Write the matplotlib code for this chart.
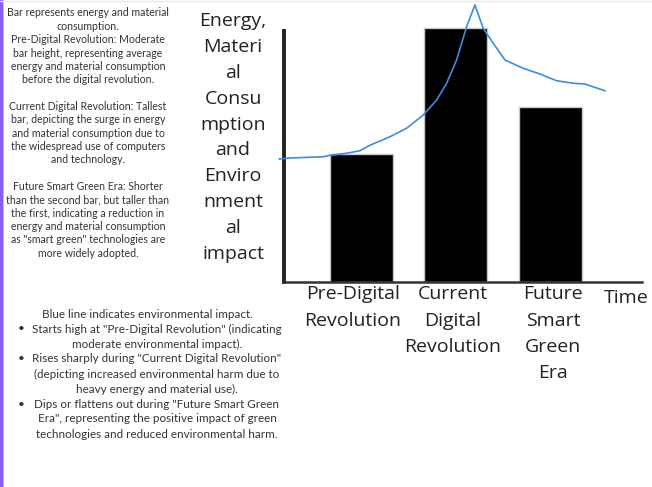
import matplotlib
matplotlib.use("Agg")
import matplotlib.pyplot as plt
from matplotlib.lines import Line2D
from matplotlib.patches import Rectangle

# ---- data ----
categories = ["Pre-Digital\nRevolution", "Current\nDigital\nRevolution", "Future\nSmart\nGreen\nEra"]
consumption = [5.12, 10.16, 7.0]
impact_x = [-0.87, -0.757, -0.404, -0.333, -0.157, -0.016, 0.090, 0.302, 0.478, 0.654,
            0.796, 0.902, 1.007, 1.113, 1.201, 1.289, 1.395, 1.519, 1.712, 1.889,
            2.066, 2.241, 2.365, 2.577]
impact_y = [4.92, 4.96, 5.01, 5.07, 5.15, 5.25, 5.47, 5.81, 6.15, 6.68,
            7.28, 7.95, 8.88, 10.21, 11.08, 10.15, 9.55, 8.88, 8.55, 8.32,
            8.05, 7.95, 7.92, 7.65]
y_label = "Energy,\nMateri\nal\nConsu\nmption\nand\nEnviro\nnment\nal\nimpact"
x_label = "Time"

note_top = ("Bar represents energy and material\nconsumption.\n"
            "Pre-Digital Revolution: Moderate\nbar height, representing average\n"
            "energy and material consumption\nbefore the digital revolution.\n\n"
            "Current Digital Revolution: Tallest\nbar, depicting the surge in energy\n"
            "and material consumption due to\nthe widespread use of computers\nand technology.\n\n"
            "Future Smart Green Era: Shorter\nthan the second bar, but taller than\n"
            "the first, indicating a reduction in\nenergy and material consumption\n"
            "as \"smart green\" technologies are\nmore widely adopted.")
note_head = "Blue line indicates environmental impact."
note_bullets = [
    "Starts high at \"Pre-Digital Revolution\" (indicating\nmoderate environmental impact).",
    "Rises sharply during \"Current Digital Revolution\"\n(depicting increased environmental harm due to\nheavy energy and material use).",
    "Dips or flattens out during \"Future Smart Green\nEra\", representing the positive impact of green\ntechnologies and reduced environmental harm.",
]

W, H = 652, 487
fig = plt.figure(figsize=(W / 100, H / 100), dpi=100)
fig.patch.set_facecolor("white")

def fx(px):
    return px / W

def fy(py):
    return 1 - py / H

def lines_at(x_px, y0_px, step_px, text, **kw):
    for i, line in enumerate(text.split("\n")):
        if line:
            fig.text(fx(x_px), fy(y0_px + i * step_px), line, **kw)

# frame decorations
fig.add_artist(Rectangle((0, 0), fx(2.5), 1, transform=fig.transFigure,
                         facecolor="#8b5cf6", edgecolor="none"))
fig.add_artist(Rectangle((fx(2.5), 0), fx(1.5), 1, transform=fig.transFigure,
                         facecolor="#c4b5fd", edgecolor="none"))
fig.add_artist(Line2D([0, 1], [fy(0.5), fy(0.5)], transform=fig.transFigure,
                      color="#e5e7eb", lw=1))

# axes
left_px, right_px = 276.45, 642
ax = fig.add_axes([fx(left_px), fy(282), fx(right_px - left_px), 282 / H])
ax.set_facecolor("none")
xs = list(range(len(categories)))
ax.bar(xs, consumption, width=0.667, color="black", edgecolor="#c8c8c8", linewidth=1.0, zorder=2)
ax.plot(impact_x, impact_y, color="#3b8de0", lw=1.2, zorder=3)
ax.set_xlim(-0.90, 2.97)
ax.set_ylim(0, 11.28)

for s in ["top", "right"]:
    ax.spines[s].set_visible(False)
ax.spines["left"].set_position(("data", -0.82))
ax.spines["left"].set_bounds(0, 10.04)
ax.spines["left"].set_linewidth(2.8)
ax.spines["left"].set_color("#222222")
ax.spines["bottom"].set_bounds(-0.82, 2.97)
ax.spines["bottom"].set_linewidth(1.8)
ax.spines["bottom"].set_color("#333333")
ax.set_yticks([])
ax.set_xticks([])

font_big = dict(family=["Open Sans", "DejaVu Sans"], fontsize=14, color="#222222",
                ha="center", va="center_baseline")
# category labels
label_px = [353, 453, 553]
for lp, cat in zip(label_px, categories):
    lines_at(lp, 292, 26.5, cat, **font_big)
fig.text(fx(626), fy(296), x_label, **font_big)
# y label
lines_at(233, 19, 25.9, y_label, **font_big)

# notes
font_small = dict(family=["Lato", "DejaVu Sans"], fontsize=7.6, color="#333333",
                  ha="center", va="center_baseline")
lines_at(88, 12, 13.35, note_top, **font_small)

font_mid = dict(family=["Lato", "DejaVu Sans"], fontsize=8.4, color="#333333",
                ha="center", va="center_baseline")
fig.text(fx(147), fy(313), note_head, **font_mid)
row = 1
for b in note_bullets:
    fig.text(fx(21), fy(313 + row * 15), "\u2022", **font_mid)
    lines_at(157, 313 + row * 15, 15, b, **font_mid)
    row += len(b.split("\n"))

fig.savefig("out.png", dpi=100, facecolor="white")
